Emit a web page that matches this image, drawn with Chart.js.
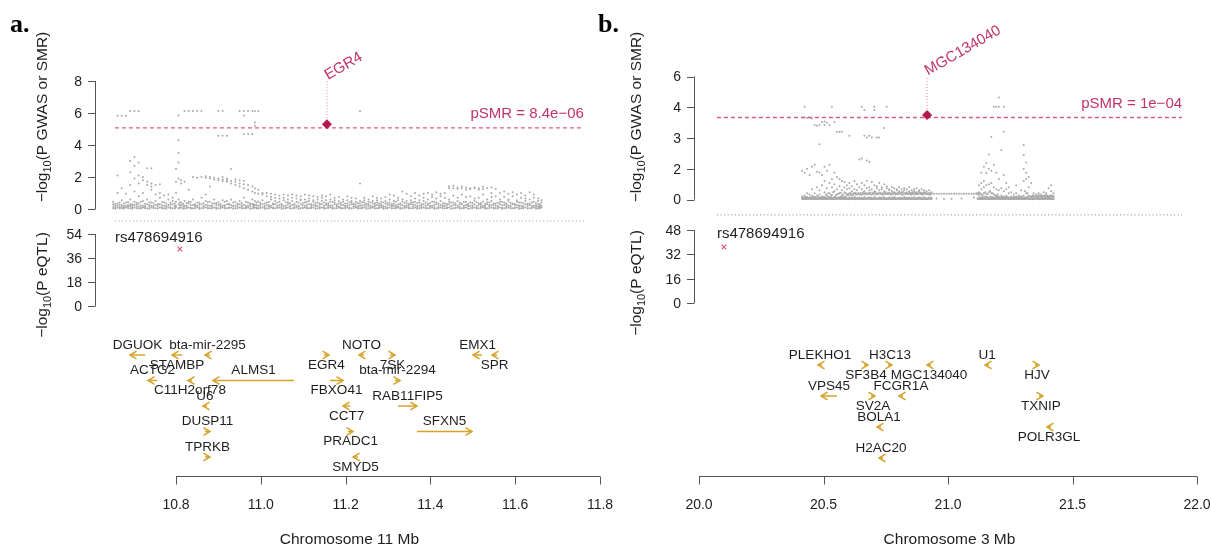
<!DOCTYPE html>
<html><head><meta charset="utf-8">
<script src="https://cdn.jsdelivr.net/npm/chart.js@4.4.1/dist/chart.umd.min.js"></script>
<style>
html,body{margin:0;padding:0;background:#fff;}
#wrap{position:relative;width:1211px;height:548px;overflow:hidden;background:#fff;}
canvas{position:absolute;top:0;}
</style></head><body>
<div id="wrap">
<canvas id="cA" width="640" height="548" style="left:0px"></canvas>
<canvas id="cB" width="621" height="548" style="left:590px"></canvas>
</div>
<script>
// ================= DATA =================
const panelLetters = ['a.', 'b.'];
const chromTitles = ['Chromosome 11 Mb', 'Chromosome 3 Mb'];

// x-axis ticks (Mb)
const xTicksA = [10.8, 11.0, 11.2, 11.4, 11.6, 11.8];
const xTicksB = [20.0, 20.5, 21.0, 21.5, 22.0];
// plotted region (Mb)
const regionA = [10.656, 11.762];
const regionB = [20.072, 21.94];

// GWAS / SMR axis ticks and labels
const gwasTicksA = [0, 2, 4, 6, 8];
const gwasTickLabelsA = ['0', '2', '4', '6', '8'];
const gwasTicksB = [0, 1.5, 3, 4.5, 6];
const gwasTickLabelsB = ['0', '2', '3', '4', '6'];
// eQTL axis ticks
const eqtlTicksA = [0, 18, 36, 54];
const eqtlTicksB = [0, 16, 32, 48];

// SMR probe (position Mb, -log10 p)
const probeNames = ['EGR4', 'MGC134040'];
const probePos = [11.156, 20.916];
const probeLogP = [5.3, 4.12];
// SMR threshold
const pSMR = [8.4e-6, 1e-4];
const pSMRText = ['pSMR = 8.4e\u221206', 'pSMR = 1e\u221204'];
// top eQTL SNP
const eqtlSnpName = ['rs478694916', 'rs478694916'];
const eqtlSnpPos = [10.809, 20.100];
const eqtlSnpLogP = [42.75, 36.8];

// GWAS points, panel a: [position Mb, [-log10 p values]]
const gwasColsA = [
[10.652,[.05,.15,.3,.45]],[10.662,[.08,.2,.35,1.0,2.1,5.83]],[10.672,[.05,.12,.25,.55,1.3,5.83]],
[10.682,[.1,.2,.4,.95,5.83]],[10.692,[.05,.18,.3,.6,1.5,2.3,3.0,6.12]],[10.702,[.1,.25,.45,1.1,1.9,2.7,3.25,6.12]],
[10.712,[.05,.15,.35,.8,1.6,2.1,2.9,6.12]],[10.722,[.1,.2,.5,1.0,1.8,2.0]],[10.732,[.05,.3,.6,1.5,1.7,2.55]],
[10.742,[.1,.2,.4,1.2,1.4,1.6,2.55]],[10.752,[.05,.25,.5,.9,1.5]],[10.762,[.1,.3,.7,1.0,1.55]],
[10.772,[.05,.2,.4,.85]],[10.782,[.1,.25,.6,.9]],[10.792,[.05,.3,.5,.7]],[10.800,[.1,.2,.45,1.0,1.7,2.5]],
[10.806,[.05,.3,.6,1.9,2.9,3.5,4.3,5.85]],[10.812,[.1,.25,.4,1.6,1.8]],[10.820,[.05,.2,.5,1.7,6.12]],
[10.830,[.1,.35,.45,1.2,6.12]],[10.840,[.05,.25,.6,2.0,6.12]],[10.850,[.1,.2,.4,1.95,6.12]],
[10.860,[.05,.3,.7,2.0,6.12]],[10.870,[.1,.25,.5,.9,1.95,2.05]],[10.880,[.05,.2,.45,1.4,1.9,2.0]],
[10.890,[.1,.35,.6,1.85,1.95]],[10.900,[.05,.25,.4,1.8,1.9,4.58,6.12]],[10.910,[.1,.2,.55,1.75,1.85,2.0,4.58,6.12]],
[10.920,[.05,.3,.5,1.7,1.8,1.9,4.58]],[10.930,[.1,.25,.6,1.6,1.75,2.5]],[10.940,[.05,.2,.45,1.5,1.7,1.85]],
[10.950,[.1,.3,.5,1.4,1.6,1.8,6.12]],[10.960,[.05,.25,.7,1.3,1.55,1.75,4.69,5.85,6.12]],[10.970,[.1,.2,.4,1.2,1.5,4.69,6.12]],
[10.980,[.05,.3,.6,1.1,1.4,4.69,6.12]],[10.986,[.1,.25,.5,1.0,1.3,5.2,5.4,6.12]],[10.994,[.05,.2,.45,.95,1.2,6.12]],
[11.004,[.1,.3,.55,.9,1.0]],[11.014,[.05,.25,.4,.8,1.0]],[11.024,[.1,.2,.6,.75,.95]],[11.034,[.05,.3,.5,.7,.9]],
[11.044,[.1,.25,.45,.65,.85]],[11.054,[.05,.2,.55,.7,.9]],[11.064,[.1,.3,.4,.6,.85]],[11.074,[.05,.25,.5,.7,.9]],
[11.084,[.1,.2,.45,.65,.85]],[11.094,[.05,.3,.55,.6,.8]],[11.104,[.1,.2,.4,.6,.9]],[11.114,[.05,.3,.5,.65,.85]],
[11.124,[.1,.25,.45,.55,.8]],[11.134,[.05,.2,.4,.6,.75]],[11.144,[.1,.3,.5,.7,.85]],[11.154,[.05,.25,.35,.55,.8]],
[11.164,[.1,.2,.45,.6,.9]],[11.174,[.05,.3,.4,.55,.7]],[11.184,[.1,.15,.35,.5,.75]],[11.194,[.05,.25,.45,.6]],
[11.204,[.1,.2,.35,.55,.8]],[11.214,[.05,.3,.4,.5,.7]],[11.224,[.1,.15,.3,.45,.65]],[11.234,[.05,.2,.35,.5,1.6,6.12]],
[11.244,[.1,.25,.4,.55,.7]],[11.254,[.05,.2,.3,.45,.6]],[11.264,[.1,.15,.35,.5,.8]],[11.274,[.05,.25,.4,.55,.7]],
[11.284,[.1,.2,.3,.45,.65]],[11.294,[.05,.15,.35,.5,.75]],[11.304,[.1,.25,.4,.6,.9]],[11.314,[.05,.2,.35,.5,.85]],
[11.324,[.1,.15,.3,.55,.7]],[11.334,[.05,.25,.45,.6,1.1]],[11.344,[.1,.2,.35,.5,.95]],[11.354,[.05,.3,.4,.55,.8]],
[11.364,[.1,.25,.45,.65,1.0]],[11.374,[.05,.2,.4,.55,.85]],[11.384,[.1,.3,.5,.7,.95]],[11.394,[.05,.25,.35,.6,1.0]],
[11.404,[.1,.2,.45,.75,.9]],[11.414,[.05,.3,.4,.65,1.05]],[11.424,[.1,.25,.5,.8,.95]],[11.434,[.05,.2,.35,.7,1.0]],
[11.444,[.1,.3,.45,.6,1.3,1.4]],[11.454,[.05,.25,.4,.85,1.3,1.45]],[11.464,[.1,.2,.5,.7,1.25,1.35]],
[11.474,[.05,.3,.35,.9,1.3,1.4]],[11.484,[.1,.25,.45,.75,1.2,1.35]],[11.494,[.05,.2,.4,.8,1.25,1.3]],
[11.504,[.1,.3,.5,.65,1.3,1.35]],[11.514,[.05,.25,.35,.7,1.2,1.3]],[11.524,[.1,.2,.45,.9,1.25,1.4]],
[11.534,[.05,.3,.4,.6,1.3]],[11.544,[.1,.25,.5,.75,1.0,1.35]],[11.554,[.05,.2,.35,.8,1.25]],
[11.564,[.1,.3,.45,.6,1.0]],[11.574,[.05,.25,.4,.75,1.1]],[11.584,[.1,.2,.5,.6,.95]],[11.594,[.05,.3,.35,.8,1.05]],
[11.604,[.1,.25,.45,.55,.9]],[11.614,[.05,.2,.4,.7,1.0]],[11.624,[.1,.3,.5,.65,.85]],[11.634,[.05,.25,.35,.6,1.05]],
[11.644,[.1,.2,.45,.7,.9]],[11.654,[.05,.15,.3,.5,.65]],[11.662,[.1,.2,.4,.55]]
];
// dense low band, panel a
const gwasLowA = [
[10.657,[.02,.1,.2,.32]],[10.667,[.05,.13,.26,.4]],[10.677,[.03,.09,.18,.35]],[10.687,[.06,.15,.24,.42]],
[10.697,[.02,.11,.21,.3]],[10.707,[.04,.16,.28,.38]],[10.717,[.03,.08,.22,.45]],[10.727,[.05,.12,.19,.33]],
[10.737,[.02,.14,.25,.4]],[10.747,[.06,.1,.2,.36]],[10.757,[.03,.15,.27,.31]],[10.767,[.04,.09,.23,.43]],
[10.777,[.02,.13,.18,.34]],[10.787,[.05,.11,.26,.39]],[10.797,[.03,.16,.21,.35]],[10.809,[.06,.1,.24,.41]],
[10.817,[.02,.14,.28,.33]],[10.825,[.04,.12,.2,.37]],[10.835,[.03,.08,.25,.44]],[10.845,[.05,.15,.22,.3]],
[10.855,[.02,.11,.27,.39]],[10.865,[.06,.13,.19,.36]],[10.875,[.03,.1,.24,.42]],[10.885,[.04,.16,.21,.34]],
[10.895,[.02,.09,.26,.38]],[10.905,[.05,.14,.18,.31]],[10.915,[.03,.12,.23,.45]],[10.925,[.06,.1,.28,.35]],
[10.935,[.02,.15,.2,.4]],[10.945,[.04,.11,.25,.33]],[10.955,[.03,.13,.22,.37]],[10.965,[.05,.08,.19,.43]],
[10.975,[.02,.16,.27,.36]],[10.983,[.06,.12,.21,.32]],[10.990,[.03,.1,.24,.41]],[10.999,[.04,.14,.26,.38]],
[11.009,[.02,.11,.18,.34]],[11.019,[.05,.15,.23,.44]],[11.029,[.03,.09,.28,.35]],[11.039,[.06,.13,.2,.39]],
[11.049,[.02,.12,.25,.31]],[11.059,[.04,.1,.22,.42]],[11.069,[.03,.16,.19,.36]],[11.079,[.05,.11,.27,.33]],
[11.089,[.02,.14,.21,.4]],[11.099,[.06,.08,.24,.37]],[11.109,[.03,.13,.26,.45]],[11.119,[.04,.1,.18,.32]],
[11.129,[.02,.15,.23,.38]],[11.139,[.05,.12,.28,.34]],[11.149,[.03,.09,.2,.41]],[11.159,[.06,.14,.25,.36]],
[11.169,[.02,.11,.22,.43]],[11.179,[.04,.16,.19,.3]],[11.189,[.03,.1,.27,.39]],[11.199,[.05,.13,.21,.35]],
[11.209,[.02,.08,.24,.42]],[11.219,[.06,.15,.26,.33]],[11.229,[.03,.12,.18,.37]],[11.239,[.04,.1,.23,.44]],
[11.249,[.02,.14,.28,.31]],[11.259,[.05,.11,.2,.4]],[11.269,[.03,.16,.25,.36]],[11.279,[.06,.09,.22,.34]],
[11.289,[.02,.13,.19,.41]],[11.299,[.04,.1,.27,.38]],[11.309,[.03,.15,.21,.32]],[11.319,[.05,.12,.24,.45]],
[11.329,[.02,.08,.26,.35]],[11.339,[.06,.14,.18,.39]],[11.349,[.03,.11,.23,.33]],[11.359,[.04,.16,.28,.42]],
[11.369,[.02,.1,.2,.37]],[11.379,[.05,.13,.25,.31]],[11.389,[.03,.09,.22,.4]],[11.399,[.06,.15,.19,.36]],
[11.409,[.02,.12,.27,.43]],[11.419,[.04,.1,.21,.34]],[11.429,[.03,.14,.24,.38]],[11.439,[.05,.11,.26,.32]],
[11.449,[.02,.16,.18,.41]],[11.459,[.06,.08,.23,.35]],[11.469,[.03,.13,.28,.39]],[11.479,[.04,.1,.2,.44]],
[11.489,[.02,.15,.25,.33]],[11.499,[.05,.12,.22,.37]],[11.509,[.03,.09,.19,.42]],[11.519,[.06,.14,.27,.36]],
[11.529,[.02,.11,.21,.31]],[11.539,[.04,.16,.24,.4]],[11.549,[.03,.1,.26,.34]],[11.559,[.05,.13,.18,.38]],
[11.569,[.02,.08,.23,.45]],[11.579,[.06,.15,.28,.35]],[11.589,[.03,.12,.2,.39]],[11.599,[.04,.1,.25,.32]],
[11.609,[.02,.14,.22,.41]],[11.619,[.05,.11,.19,.36]],[11.629,[.03,.16,.27,.33]],[11.639,[.06,.09,.21,.4]],
[11.649,[.02,.13,.24,.37]],[11.658,[.04,.1,.18,.3]]
];

// GWAS points, panel b
const gwasColsB = [
[20.414,[.02,.08,.15,1.4]],[20.424,[.03,.1,.2,1.3,4.0,4.53]],[20.434,[.02,.06,.12,.3,1.5,3.98]],
[20.444,[.04,.1,.25,1.2,4.0]],[20.454,[.02,.08,.18,.5,1.6,3.95]],[20.464,[.03,.12,.3,1.7,3.63]],
[20.474,[.02,.06,.2,.6,1.35,3.6]],[20.484,[.04,.1,.25,.45,1.3,2.7,3.65]],[20.494,[.02,.08,.15,.7,1.2,3.78]],
[20.504,[.03,.12,.35,.9,1.6,3.8,3.63]],[20.514,[.02,.06,.2,.55,1.4,3.75]],[20.524,[.04,.1,.3,.8,1.7,3.63]],
[20.534,[.02,.08,.22,.6,1.0,4.53]],[20.544,[.03,.12,.4,.75,1.3,3.78]],[20.554,[.02,.06,.25,.5,1.1,3.3]],
[20.564,[.04,.1,.3,.65,1.0,3.29]],[20.574,[.02,.08,.2,.45,.9,3.3]],[20.584,[.03,.12,.35,.6,.85]],
[20.594,[.02,.06,.25,.5,.7]],[20.604,[.04,.1,.3,.55,.8,3.11]],[20.614,[.02,.08,.2,.4,.65]],
[20.624,[.03,.12,.3,.5,.9]],[20.634,[.02,.06,.25,.45,.75]],[20.644,[.04,.1,.28,.6,1.95]],
[20.654,[.02,.08,.25,.5,.8,2.0,4.53]],[20.664,[.03,.12,.3,.4,.7,3.11,4.37]],[20.674,[.02,.06,.28,.55,.9,1.9,3.02]],
[20.684,[.04,.1,.3,.45,.6,1.83,3.11]],[20.694,[.02,.08,.25,.5,.85,3.02]],[20.704,[.03,.12,.3,.4,.7,4.53,4.37]],
[20.714,[.02,.06,.28,.55,.65,3.02]],[20.724,[.04,.1,.3,.45,.8,3.02]],[20.734,[.02,.08,.25,.5,.6]],
[20.744,[.03,.12,.3,.4,.75,3.49]],[20.754,[.02,.06,.28,.55,.65,4.53]],[20.764,[.04,.1,.3,.45,.5]],
[20.774,[.02,.08,.25,.4,.6]],[20.784,[.03,.12,.3,.35,.55]],[20.794,[.02,.06,.28,.45,.5]],
[20.804,[.04,.1,.3,.4,.6]],[20.814,[.02,.08,.25,.35,.5]],[20.824,[.03,.12,.3,.45,.55]],
[20.834,[.02,.06,.28,.35,.5]],[20.844,[.04,.1,.3,.4,.6]],[20.854,[.02,.08,.25,.3,.45]],
[20.864,[.03,.12,.3,.4,.5]],[20.874,[.02,.06,.28,.35,.55]],[20.884,[.04,.1,.3,.4,.45]],
[20.894,[.02,.08,.25,.3,.5]],[20.904,[.03,.12,.3,.35,.45]],[20.914,[.02,.06,.28,.4]],
[20.924,[.04,.1,.25,.3,.45]],[20.934,[.02,.08,.28,.35]],[20.944,[.28]],[20.954,[.28,.05]],
[20.964,[.28]],[20.974,[.28]],[20.984,[.28,.02]],[20.994,[.28]],[21.004,[.28]],[21.014,[.28,.04]],
[21.024,[.28]],[21.034,[.28]],[21.044,[.28]],[21.054,[.28,.05]],[21.064,[.28]],[21.074,[.28]],
[21.084,[.28]],[21.094,[.28]],[21.104,[.28,.1]],[21.114,[.28,.3]],
[21.124,[.02,.06,.2,.28,.35,.7]],[21.134,[.03,.1,.25,.5,.8,1.3]],[21.144,[.02,.08,.3,.6,.9,1.6]],
[21.154,[.04,.12,.28,.7,1.78,1.29]],[21.164,[.02,.06,.35,.75,1.5,2.2]],[21.174,[.03,.1,.3,.8,1.4,3.06]],
[21.184,[.02,.08,.25,.6,1.7,4.53]],[21.194,[.04,.12,.2,.5,1.3,4.53]],[21.204,[.02,.06,.15,.45,1.0,4.97,4.53]],
[21.214,[.03,.1,.2,.55,2.41]],[21.224,[.02,.08,.15,.4,1.2,3.3,4.53]],[21.234,[.04,.12,.18,.5,.8]],
[21.244,[.02,.06,.1,.3,.6]],[21.254,[.03,.1,.15,.35]],[21.264,[.02,.08,.12,.25]],
[21.274,[.04,.06,.15,.3,.7]],[21.284,[.02,.1,.12,.2]],[21.294,[.03,.08,.15,.45]],
[21.304,[.02,.06,.2,.9,1.5,2.17,2.66]],[21.314,[.04,.1,.3,1.0,1.3,1.8]],[21.324,[.02,.08,.2,.6,1.1]],
[21.334,[.03,.12,.15,.8]],[21.344,[.02,.06,.18,.3]],[21.354,[.04,.1,.15,.25]],[21.364,[.02,.08,.2,.3]],
[21.374,[.03,.12,.15,.25]],[21.384,[.02,.06,.18,.35]],[21.394,[.04,.1,.2,.3]],[21.404,[.02,.08,.15,.55]],
[21.414,[.03,.12,.2,.4,.7]],[21.424,[.02,.06,.15,.3]]
];
// dense low band, panel b
const gwasLowB = [
[20.419,[.01,.05,.1]],[20.429,[.03,.07,.12]],[20.439,[.02,.05,.09]],[20.449,[.01,.04,.11]],[20.459,[.03,.06,.13]],
[20.469,[.02,.08,.1]],[20.479,[.01,.05,.14]],[20.489,[.03,.07,.09]],[20.499,[.02,.04,.12]],[20.509,[.01,.06,.1,.25]],
[20.519,[.03,.05,.13,.3]],[20.529,[.02,.07,.11,.2]],[20.539,[.01,.04,.09,.35]],[20.549,[.03,.06,.12,.22]],
[20.559,[.02,.05,.1,.28]],[20.569,[.01,.08,.14,.33]],[20.579,[.03,.05,.11,.25]],[20.589,[.02,.07,.15,.3]],
[20.599,[.01,.04,.2,.27]],[20.609,[.03,.06,.22,.31]],[20.619,[.02,.05,.25,.29]],[20.629,[.01,.08,.24,.33]],
[20.639,[.03,.07,.26,.3]],[20.649,[.02,.04,.23,.32]],[20.659,[.01,.06,.27,.35]],[20.669,[.03,.05,.25,.31]],
[20.679,[.02,.08,.26,.3]],[20.689,[.01,.07,.24,.34]],[20.699,[.03,.04,.27,.32]],[20.709,[.02,.06,.25,.36]],
[20.719,[.01,.05,.26,.31]],[20.729,[.03,.08,.28,.33]],[20.739,[.02,.07,.25,.3]],[20.749,[.01,.04,.27,.35]],
[20.759,[.03,.06,.26,.32]],[20.769,[.02,.05,.24,.31]],[20.779,[.01,.08,.27,.34]],[20.789,[.03,.07,.25,.3]],
[20.799,[.02,.04,.26,.33]],[20.809,[.01,.06,.28,.32]],[20.819,[.03,.05,.25,.36]],[20.829,[.02,.08,.27,.31]],
[20.839,[.01,.07,.26,.3]],[20.849,[.03,.04,.24,.33]],[20.859,[.02,.06,.27,.35]],[20.869,[.01,.05,.25,.32]],
[20.879,[.03,.08,.26,.31]],[20.889,[.02,.07,.28,.34]],[20.899,[.01,.04,.25,.3]],[20.909,[.03,.06,.27,.33]],
[20.919,[.02,.05,.26,.31]],[20.929,[.01,.08,.25,.3]],
[21.119,[.02,.05,.28]],[21.129,[.01,.04,.1,.3]],[21.139,[.03,.06,.12,.22]],[21.149,[.02,.05,.15,.35]],
[21.159,[.01,.07,.1,.26]],[21.169,[.03,.04,.13,.4]],[21.179,[.02,.06,.11,.3]],[21.189,[.01,.05,.09,.2]],
[21.199,[.03,.08,.12,.25]],[21.209,[.02,.04,.1]],[21.219,[.01,.06,.13]],[21.229,[.03,.05,.09]],
[21.239,[.02,.07,.11]],[21.249,[.01,.04,.08]],[21.259,[.03,.06,.1]],[21.269,[.02,.05,.12]],
[21.279,[.01,.07,.09]],[21.289,[.03,.04,.11]],[21.299,[.02,.06,.14]],[21.309,[.01,.05,.1,.4]],
[21.319,[.03,.08,.12,.3]],[21.329,[.02,.04,.15]],[21.339,[.01,.06,.13,.2]],[21.349,[.03,.05,.16]],
[21.359,[.02,.07,.12,.18]],[21.369,[.01,.04,.15,.2]],[21.379,[.03,.06,.13,.17]],[21.389,[.02,.05,.14,.19]],
[21.399,[.01,.08,.16,.2]],[21.409,[.03,.07,.12,.18]],[21.419,[.02,.04,.15,.2]]
];

// Genes, panel a
const geneNamesA  = ['DGUOK','STAMBP','bta-mir-2295','ACTG2','C11H2orf78','ALMS1','U6','DUSP11','TPRKB','EGR4','NOTO','7SK','bta-mir-2294','FBXO41','RAB11FIP5','CCT7','SFXN5','PRADC1','SMYD5','EMX1','SPR'];
const geneStartA  = [10.6915,10.7906,10.8684,10.7340,10.8283,10.8873,10.8637,10.8684,10.8684,11.1490,11.2316,11.3047,11.3165,11.1632,11.3236,11.1939,11.3684,11.2057,11.2175,11.5005,11.5453];
const geneEndA    = [10.7269,10.8142,10.8802,10.7552,10.8377,11.0783,10.8731,10.8802,10.8802,11.1608,11.2434,11.3165,11.3283,11.1939,11.3684,11.2104,11.4981,11.2175,11.2292,11.5217,11.5571];
const geneStrandA = ['-','-','-','-','-','-','-','+','+','+','-','+','+','+','+','-','+','+','-','-','-'];
const geneLaneA   = [0,0,0,1,1,1,2,3,4,0,0,0,1,1,2,2,3,3,4,0,0];
const geneLabelA  = ['above','below','above','above','below','above','above','above','above','below','above','below','above','below','above','below','above','below','below','above','below'];

// Genes, panel b
const geneNamesB  = ['PLEKHO1','H3C13','SF3B4','MGC134040','U1','HJV','VPS45','FCGR1A','SV2A','TXNIP','BOLA1','POLR3GL','H2AC20'];
const geneStartB  = [20.4779,20.7590,20.6627,20.9157,21.1486,21.3494,20.4900,20.8032,20.6908,21.3655,20.7149,21.3976,20.7229];
const geneEndB    = [20.4940,20.7750,20.6787,20.9317,21.1647,21.3655,20.5542,20.8193,20.7068,21.3815,20.7309,21.4137,20.7390];
const geneStrandB = ['-','+','+','-','-','+','-','-','+','+','-','-','-'];
const geneLaneB   = [0,0,0,0,0,0,1,1,1,1,2,2,3];
const geneLabelB  = ['above','above','below','below','above','below','above','above','below','below','above','below','above'];

// ================= STYLE / LAYOUT =================
const FONT = '"Liberation Sans", Arial, Helvetica, sans-serif';
const GOLD = '#D6A22B';
const PROBE = '#B3174E';
const PINK_LINE = '#DA5C86';
const PINK_TEXT = '#C2336A';
const DOT = '#A9A9A9';
const AXIS = '#555555';
const INK = '#1e1e1e';

const panels = [
  { id:'cA', off:0, w:640, letterX:10,
    area:[100, 625, 40, 515],
    xMap:[10.8, 176, 11.8, 600], gMap:[0, 209, 8, 81], eMap:[0, 306, 54, 234], rMap:[0, 355, 4, 457],
    axisX:95, xAxisY:476, yTitleX:43, gTitleY:117, eTitleY:285,
    xTicks:xTicksA, region:regionA, gTicks:gwasTicksA, gLabels:gwasTickLabelsA, eTicks:eqtlTicksA,
    cols:gwasColsA.concat(gwasLowA), k:0,
    genes:{n:geneNamesA,s:geneStartA,e:geneEndA,st:geneStrandA,l:geneLaneA,lb:geneLabelA} },
  { id:'cB', off:590, w:621, letterX:598,
    area:[700, 1205, 40, 515],
    xMap:[20.0, 699, 22.0, 1197], gMap:[0, 199.5, 6, 76.5], eMap:[0, 303, 48, 230], rMap:[0, 365, 3, 458],
    axisX:694, xAxisY:476, yTitleX:637, gTitleY:117, eTitleY:283,
    xTicks:xTicksB, region:regionB, gTicks:gwasTicksB, gLabels:gwasTickLabelsB, eTicks:eqtlTicksB,
    cols:gwasColsB.concat(gwasLowB), k:1,
    genes:{n:geneNamesB,s:geneStartB,e:geneEndB,st:geneStrandB,l:geneLaneB,lb:geneLabelB} }
];

function drawYTitle(ctx, x, yc, parts) {
  ctx.save();
  ctx.translate(x, yc);
  ctx.rotate(-Math.PI / 2);
  let total = 0;
  parts.forEach(p => { ctx.font = p[1] + 'px ' + FONT; total += ctx.measureText(p[0]).width; });
  let cx = -total / 2;
  ctx.fillStyle = INK;
  ctx.textBaseline = 'middle';
  ctx.textAlign = 'left';
  parts.forEach(p => {
    ctx.font = p[1] + 'px ' + FONT;
    ctx.fillText(p[0], cx, p[2] ? 4.5 : 0);
    cx += ctx.measureText(p[0]).width;
  });
  ctx.restore();
}

function makeChart(P) {
  const loc = v => v - P.off;
  const A = { l: loc(P.area[0]), r: loc(P.area[1]), t: P.area[2], b: P.area[3] };
  const xr = m => { const k = (loc(m[3]) - loc(m[1])) / (m[2] - m[0]);
    return { min: m[0] + (A.l - loc(m[1])) / k, max: m[0] + (A.r - loc(m[1])) / k }; };
  const yr = m => { const k = (m[3] - m[1]) / (m[2] - m[0]);
    const v1 = m[0] + (A.t - m[1]) / k, v2 = m[0] + (A.b - m[1]) / k;
    return { min: Math.min(v1, v2), max: Math.max(v1, v2) }; };
  const k = P.k;
  const pLine = -Math.log10(pSMR[k]);
  const gTop = P.gTicks[P.gTicks.length - 1];
  const gwasPts = P.cols.flatMap(([x, ys]) => ys.map(y => ({ x, y })));
  const G = P.genes;

  const datasets = [
    { label:'SMR probe', data:[{x:probePos[k], y:probeLogP[k]}], yAxisID:'yG',
      pointStyle:'rectRot', pointRadius:4.5, backgroundColor:PROBE, borderColor:PROBE, borderWidth:1, order:0 },
    { label:'top eQTL', data:[{x:eqtlSnpPos[k], y:eqtlSnpLogP[k]}], yAxisID:'yE',
      pointStyle:'crossRot', pointRadius:3.3, borderColor:'#D24F7E', borderWidth:1.1, order:0 },
    { label:'pSMR threshold', type:'line', data:[{x:P.region[0], y:pLine},{x:P.region[1], y:pLine}], yAxisID:'yG',
      borderColor:PINK_LINE, borderWidth:1.3, borderDash:[4,3], pointRadius:0, order:2 },
    { label:'separator', type:'line', data:[{x:P.region[0], y:-0.75},{x:P.region[1], y:-0.75}], yAxisID:'yG',
      borderColor:'#9c9c9c', borderWidth:1.2, borderDash:[1,2.6], pointRadius:0, order:2 },
    { label:'probe stem', type:'line', data:[{x:probePos[k], y:probeLogP[k]},{x:probePos[k], y:gTop}], yAxisID:'yG',
      borderColor:'#E487A4', borderWidth:1, borderDash:[1,2], pointRadius:0, order:2 },
    { label:'GWAS', data:gwasPts, yAxisID:'yG', pointRadius:1.0, backgroundColor:DOT, borderWidth:0, order:5 }
  ];
  G.n.forEach((n, i) => {
    datasets.push({ label:n, type:'line', data:[{x:G.s[i], y:G.l[i]},{x:G.e[i], y:G.l[i]}], yAxisID:'yR',
      borderColor:GOLD, borderWidth:1.5, pointRadius:0, order:3 });
  });

  const drawPlugin = {
    id:'smrDecor',
    afterDraw(chart) {
      const ctx = chart.ctx;
      const sx = chart.scales.x, sg = chart.scales.yG, se = chart.scales.yE, sr = chart.scales.yR;
      const ax = loc(P.axisX);
      ctx.save();
      const yAxis = (sc, ticks, labels) => {
        ctx.strokeStyle = AXIS; ctx.lineWidth = 1;
        ctx.beginPath();
        ctx.moveTo(ax + 0.5, sc.getPixelForValue(ticks[0]));
        ctx.lineTo(ax + 0.5, sc.getPixelForValue(ticks[ticks.length - 1]));
        ticks.forEach(t => { const y = Math.round(sc.getPixelForValue(t)) + 0.5; ctx.moveTo(ax + 0.5, y); ctx.lineTo(ax - 7, y); });
        ctx.stroke();
        ctx.fillStyle = INK; ctx.font = '14px ' + FONT; ctx.textAlign = 'right'; ctx.textBaseline = 'middle';
        ticks.forEach((t, i) => ctx.fillText(labels[i], ax - 13, sc.getPixelForValue(t) + 1));
      };
      yAxis(sg, P.gTicks, P.gLabels);
      yAxis(se, P.eTicks, P.eTicks.map(String));
      const xa = P.xTicks;
      const ay = P.xAxisY + 0.5;
      ctx.beginPath();
      ctx.moveTo(sx.getPixelForValue(xa[0]), ay);
      ctx.lineTo(sx.getPixelForValue(xa[xa.length - 1]), ay);
      xa.forEach(t => { const x = Math.round(sx.getPixelForValue(t)) + 0.5; ctx.moveTo(x, ay); ctx.lineTo(x, ay + 8); });
      ctx.stroke();
      ctx.font = '14px ' + FONT;
      ctx.textAlign = 'center'; ctx.textBaseline = 'middle';
      xa.forEach(t => ctx.fillText(t.toFixed(1), sx.getPixelForValue(t), P.xAxisY + 29));
      ctx.font = '15.5px ' + FONT;
      ctx.fillText(chromTitles[k], (sx.getPixelForValue(P.region[0]) + sx.getPixelForValue(P.region[1])) / 2, 540);
      drawYTitle(ctx, loc(P.yTitleX), P.gTitleY, [['\u2212log', 15.5], ['10', 11, true], ['(P GWAS or SMR)', 15.5]]);
      drawYTitle(ctx, loc(P.yTitleX), P.eTitleY, [['\u2212log', 15.5], ['10', 11, true], ['(P eQTL)', 15.5]]);
      ctx.fillStyle = '#000'; ctx.font = 'bold 26px "Liberation Serif", "Times New Roman", serif';
      ctx.textAlign = 'left'; ctx.textBaseline = 'alphabetic';
      ctx.fillText(panelLetters[k], loc(P.letterX), 32);
      ctx.fillStyle = PINK_TEXT; ctx.font = '15px ' + FONT; ctx.textAlign = 'right'; ctx.textBaseline = 'middle';
      ctx.fillText(pSMRText[k], sx.getPixelForValue(P.region[1]), sg.getPixelForValue(pLine) - 14);
      ctx.save();
      ctx.translate(sx.getPixelForValue(probePos[k]) + 1, sg.getPixelForValue(gTop) - 1);
      ctx.rotate(-30 * Math.PI / 180);
      ctx.textAlign = 'left'; ctx.textBaseline = 'alphabetic';
      ctx.fillText(probeNames[k], 0, 0);
      ctx.restore();
      ctx.fillStyle = INK; ctx.textAlign = 'left'; ctx.textBaseline = 'middle';
      ctx.fillText(eqtlSnpName[k], sx.getPixelForValue(P.region[0]), se.getPixelForValue(P.eTicks[P.eTicks.length - 1]) + 4);
      ctx.font = '13.5px ' + FONT;
      ctx.strokeStyle = GOLD; ctx.lineWidth = 1.5;
      G.n.forEach((n, i) => {
        const y = sr.getPixelForValue(G.l[i]);
        const plus = G.st[i] === '+';
        const tip = sx.getPixelForValue(plus ? G.e[i] : G.s[i]);
        const d = plus ? 1 : -1;
        ctx.beginPath();
        ctx.moveTo(tip - d * 6.5, y - 3.8); ctx.lineTo(tip, y); ctx.lineTo(tip - d * 6.5, y + 3.8);
        ctx.stroke();
        const xm = (sx.getPixelForValue(G.s[i]) + sx.getPixelForValue(G.e[i])) / 2;
        ctx.fillStyle = INK; ctx.textAlign = 'center'; ctx.textBaseline = 'middle';
        ctx.fillText(n, xm, y + (G.lb[i] === 'above' ? -10 : 10));
      });
      ctx.restore();
    }
  };

  const rx = xr(P.xMap), rg = yr(P.gMap), re = yr(P.eMap), rr = yr(P.rMap);
  return new Chart(document.getElementById(P.id), {
    type:'scatter',
    data:{ datasets },
    options:{
      responsive:false, animation:false, events:[],
      layout:{ padding:{ left:A.l, right:P.w - A.r, top:A.t, bottom:548 - A.b } },
      plugins:{ legend:{display:false}, tooltip:{enabled:false}, title:{display:false} },
      scales:{
        x:{ type:'linear', display:false, bounds:'data', min:rx.min, max:rx.max },
        yG:{ type:'linear', display:false, bounds:'data', min:rg.min, max:rg.max },
        yE:{ type:'linear', display:false, bounds:'data', min:re.min, max:re.max },
        yR:{ type:'linear', display:false, bounds:'data', min:rr.min, max:rr.max, reverse:true }
      }
    },
    plugins:[drawPlugin]
  });
}
panels.forEach(makeChart);
</script>
</body></html>
